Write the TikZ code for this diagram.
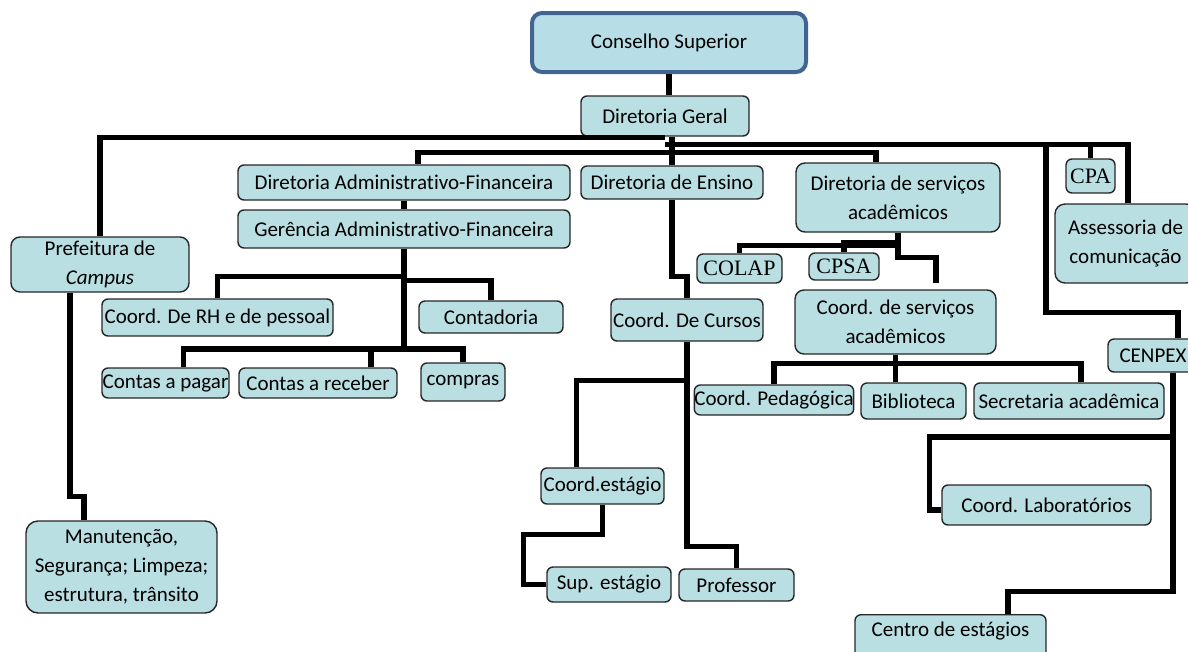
\documentclass[tikz,border=0pt]{standalone}
\usepackage{fontspec}
\setmainfont{Carlito}[Ligatures=NoCommon]
\newfontfamily\timesfont{Liberation Serif}
\usepackage{xcolor}
\usepackage{tikz}

\definecolor{boxblue}{RGB}{186,223,227}
\definecolor{topblue}{RGB}{183,221,230}
\definecolor{rimblue}{RGB}{65,100,145}

\begin{document}
\begin{tikzpicture}[x=1pt,y=-1pt,
		box/.style={draw=black!85, fill=boxblue, line width=1.4pt, rounded corners=6pt, inner sep=0pt, font=\fontsize{21}{29}\selectfont},
		serifbox/.style={box, font=\timesfont\fontsize{22}{26}\selectfont},
		topbox/.style={box, draw=rimblue, fill=topblue, line width=4pt, rounded corners=10pt},
		link/.style={line width=5.5pt}]
		\useasboundingbox (0,0) rectangle (1188,651);
		
		\node[topbox, minimum width=274pt, minimum height=59pt] (cons) at (669,42.5) {Conselho Superior};
		\node[box, minimum width=168pt, minimum height=40pt] (dg) at (665,116) {Diretoria Geral};
		
		\node[box, minimum width=332pt, minimum height=35pt] (daf) at (404,182.5) {Diretoria Administrativo-Financeira};
		\node[box, minimum width=332pt, minimum height=38pt] (gaf) at (404,229) {Gerência Administrativo-Financeira};
		\node[box, minimum width=182pt, minimum height=33pt] (de) at (672,182.5) {Diretoria de Ensino};
		\node[box, align=center, rounded corners=9pt, minimum width=204pt, minimum height=69pt] (dsa) at (898,197.5) {Diretoria de serviços\\acadêmicos};
		\node[serifbox, minimum width=49pt, minimum height=34pt] (cpa) at (1090.5,176) {CPA};
		\node[box, align=center, rounded corners=10pt, minimum width=141pt, minimum height=79pt] (asc) at (1125.5,243.5) {Assessoria de\\comunicação};
		\node[box, align=center, rounded corners=9pt, minimum width=178pt, minimum height=55pt] (pref) at (100,264.5) {Prefeitura de\\\textit{Campus}};
		
		\node[box, minimum width=231pt, minimum height=37pt] (rh) at (217.5,317.5) {Coord. De RH e de pessoal};
		\node[box, minimum width=144pt, minimum height=32pt] (cont) at (491,317) {Contadoria};
		\node[serifbox, minimum width=85pt, minimum height=29pt] (colap) at (739.5,268.5) {COLAP};
		\node[serifbox, minimum width=70pt, minimum height=27pt] (cpsa) at (844,266.5) {CPSA};
		\node[box, minimum width=152pt, minimum height=42pt] (cdc) at (687,320) {Coord. De Cursos};
		\node[box, align=center, rounded corners=9pt, minimum width=201pt, minimum height=64pt] (csa) at (895.5,322) {Coord. de serviços\\acadêmicos};
		\node[box, minimum width=90pt, minimum height=33pt] (cenpex) at (1153,355.5) {CENPEX};
		
		\node[box, minimum width=127pt, minimum height=30pt] (pagar) at (165.5,383) {Contas a pagar};
		\node[box, minimum width=158pt, minimum height=30pt] (receber) at (318,383) {Contas a receber};
		\node[box, minimum width=84pt, minimum height=38pt] (compras) at (463,382) {compras};
		\node[box, minimum width=158pt, minimum height=30pt] (cped) at (774,400) {Coord. Pedagógica};
		\node[box, minimum width=105pt, minimum height=36pt] (bib) at (913.5,401) {Biblioteca};
		\node[box, minimum width=190pt, minimum height=36pt] (sec) at (1069,401) {Secretaria acadêmica};
		
		\node[box, minimum width=123pt, minimum height=36pt] (cest) at (602.5,486) {Coord.estágio};
		\node[box, minimum width=209pt, minimum height=40pt] (lab) at (1046.5,505) {Coord. Laboratórios};
		\node[box, align=center, rounded corners=12pt, minimum width=191pt, minimum height=92pt] (manut) at (121.5,567) {Manutenção,\\Segurança; Limpeza;\\estrutura, trânsito};
		\node[box, minimum width=124pt, minimum height=35pt] (sup) at (609,584.5) {Sup. estágio};
		\node[box, minimum width=115pt, minimum height=32pt] (prof) at (736.5,585) {Professor};
		\node[box, anchor=north, minimum width=191pt, inner ysep=6pt, text height=16pt, text depth=30pt] (centro) at (950.5,614) {Centro de estágios};
		
		% top
		\draw[link] (cons.south) -- (cons.south |- dg.north);
		\draw[link] (pref.north) |- ([yshift=-1pt]dg.south);
		\draw[link] (dg.south -| de.north) -- (de.north);
		\draw[link] ([yshift=-8pt]dg.south) -| ([xshift=2.5pt]asc.north);
		\draw[link] (cpa.north) -- ++(0,-15);
		\draw[link] ([xshift=25pt]cenpex.north) |- ++(-132,-26) -- ++(0,-169);
		\draw[link] ([xshift=14pt]daf.north) -- ++(0,-12) -| ([xshift=-22pt]dsa.north);
		
		% administracao
		\draw[link] (daf) -- (gaf);
		\coordinate (ga) at (404,349);
		\draw[link] (gaf.south) -- (ga);
		\draw[link] (rh.north) |- ([yshift=-28pt]gaf.south);
		\draw[link] (cont.north) |- ([yshift=-32pt]gaf.south);
		\draw[link] ([xshift=18pt]pagar.north) |- (ga) -| (compras.north);
		\draw[link] ([xshift=53pt]receber.north) -- ([xshift=53pt]receber.north |- ga);
		
		% ensino
		\draw[link] (de.south) -- ++(0,77) -| (cdc.north);
		\draw[link] (cdc.south) -- ++(0,205) -| (prof.north);
		\draw[link] ([xshift=-26pt]cest.north) |- ([yshift=-39pt]cdc.south);
		\draw[link] (cest.south) -- ++(0,30) -| ([xshift=-23pt]sup.west) -- (sup.west);
		
		% servicos academicos
		\draw[link] (dsa.south) -- ++(0,25) -| ++(38,25);
		\draw[link] (colap.north) |- ([yshift=-13pt]dsa.south);
		\draw[link] (cpsa.north) |- ([yshift=-10pt]dsa.south);
		\draw[link] (csa.south) -- (csa.south |- bib.north);
		\draw[link] (cped.north) |- ([yshift=-9pt]csa.south) -| ([xshift=12pt]sec.north);
		
		% cenpex
		\draw[link] ([xshift=20pt]cenpex.south) -- ++(0,219) -| ([xshift=57.5pt]centro.north);
		\draw[link] ([yshift=-5pt]lab.west) -| ++(-12,-73) -- ++(243,0);
		
		% prefeitura
		\draw[link] ([xshift=-30pt]pref.south) -- ++(0,204) -| ([xshift=-37.5pt]manut.north);
	\end{tikzpicture}
\end{document}
